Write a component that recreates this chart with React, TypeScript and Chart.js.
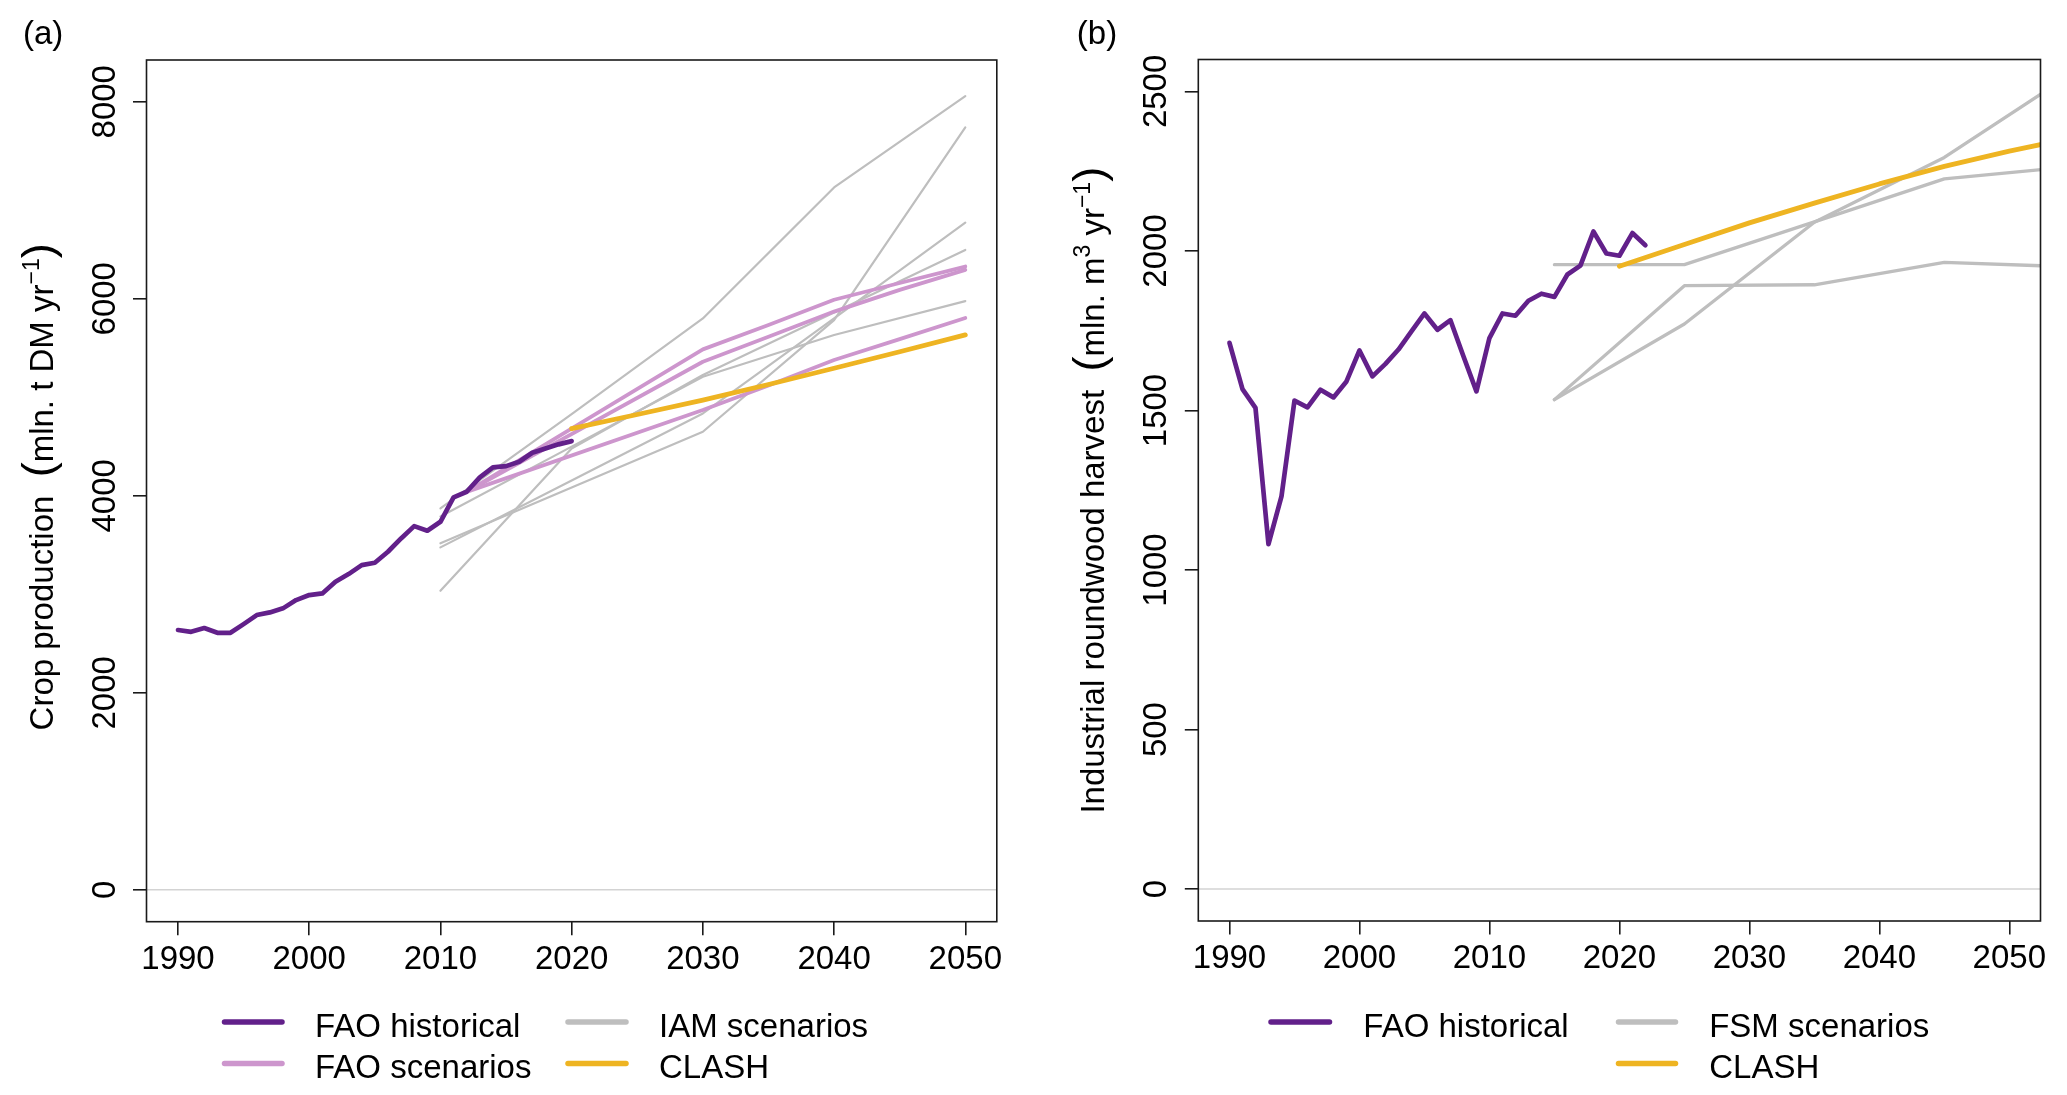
import React, { useEffect, useRef } from 'react';
import { Chart, registerables } from 'chart.js';

Chart.register(...registerables);

const FAMILY = '"Liberation Sans", Arial, Helvetica, sans-serif';
const FS = 33;

// ---------- shared axis ticks ----------
const xTickYears = [1990, 2000, 2010, 2020, 2030, 2040, 2050];
const cropTicks = [0, 2000, 4000, 6000, 8000];
const woodTicks = [0, 500, 1000, 1500, 2000, 2500];

// ---------- panel (a): crop production ----------
const cropHistYears = [1990, 1991, 1992, 1993, 1994, 1995, 1996, 1997, 1998, 1999, 2000, 2001, 2002, 2003, 2004, 2005, 2006, 2007, 2008, 2009, 2010, 2011, 2012, 2013, 2014, 2015, 2016, 2017, 2018, 2019, 2020];
const cropHist = [2637, 2619, 2657, 2609, 2609, 2697, 2789, 2816, 2857, 2941, 2992, 3009, 3127, 3205, 3296, 3320, 3432, 3567, 3692, 3645, 3736, 3984, 4041, 4187, 4288, 4301, 4345, 4437, 4481, 4522, 4555];

const iamYears = [2010, 2020, 2030, 2040, 2050];
const iam1 = [3872, 4830, 5800, 7130, 8058];
const iam2 = [3517, 4083, 4650, 5784, 7740];
const iam3 = [3036, 4480, 5226, 5860, 6495];
const iam4 = [3476, 4156, 4836, 5800, 6772];
const iam5 = [3790, 4499, 5208, 5632, 5976];

const faoScenYears = [2012, 2030, 2035, 2040, 2045, 2050];
const faoScen1 = [4040, 5486, 5733, 5990, 6160, 6327];
const faoScen2 = [4040, 5361, 5614, 5870, 6090, 6293];
const faoScen3 = [4040, 4870, 5120, 5378, 5590, 5805];

const clashCropYears = [2020, 2025, 2030, 2035, 2040, 2045, 2050];
const clashCrop = [4681, 4825, 4971, 5130, 5295, 5462, 5633];

// ---------- panel (b): industrial roundwood ----------
const woodHistYears = [1990, 1991, 1992, 1993, 1994, 1995, 1996, 1997, 1998, 1999, 2000, 2001, 2002, 2003, 2004, 2005, 2006, 2007, 2008, 2009, 2010, 2011, 2012, 2013, 2014, 2015, 2016, 2017, 2018, 2019, 2020, 2021, 2022];
const woodHist = [1712, 1567, 1508, 1081, 1231, 1531, 1510, 1565, 1541, 1591, 1688, 1607, 1646, 1691, 1748, 1804, 1753, 1783, 1670, 1560, 1727, 1804, 1797, 1844, 1866, 1856, 1926, 1954, 2061, 1992, 1985, 2056, 2018];

const fsmYears = [2015, 2025, 2035, 2045, 2055];
const fsm1 = [1534, 1771, 2090, 2293, 2560];
const fsm2 = [1957, 1957, 2091, 2226, 2265];
const fsm3 = [1534, 1891, 1894, 1964, 1950];

const clashWoodYears = [2020, 2025, 2030, 2035, 2040, 2045, 2050, 2055];
const clashWood = [1952, 2020, 2088, 2150, 2210, 2265, 2313, 2355];

// ---------- legend labels ----------
const legendA = ['FAO historical', 'FAO scenarios', 'IAM scenarios', 'CLASH'];
const legendB = ['FAO historical', 'FSM scenarios', 'CLASH'];

const COL = {
  hist: '#62208A',
  scen: '#CD96CD',
  model: '#BEBEBE',
  clash: '#EEB422',
};

type Seg = { t: string; size: number; rise?: number };

function pts(years: number[], vals: number[]) {
  return years.map((x, i) => ({ x, y: vals[i] }));
}

function line(years: number[], vals: number[], color: string, width: number, order: number) {
  return {
    data: pts(years, vals),
    borderColor: color,
    backgroundColor: color,
    borderWidth: width,
    pointRadius: 0,
    pointHoverRadius: 0,
    tension: 0,
    fill: false,
    clip: 0,
    order,
    borderCapStyle: 'round',
    borderJoinStyle: 'round',
  };
}

interface LegendItem { text: string; color: string; col: number; row: number }

interface Spec {
  key: string;
  W: number;
  H: number;
  area: { left: number; right: number; top: number; bottom: number };
  yMin: number;
  yMax: number;
  yTicks: number[];
  datasets: any[];
  title: Seg[];
  titleShift: number;
  panel: string;
  panelX: number;
  legend: LegendItem[];
  legendCols: { x0: number; x1: number; tx: number }[];
}

const legendRows = [1022, 1063.5];

function drawRotated(ctx: CanvasRenderingContext2D, segs: Seg[], bx: number, cy: number) {
  ctx.save();
  const widths = segs.map((s) => {
    ctx.font = `${s.size}px ${FAMILY}`;
    return ctx.measureText(s.t).width;
  });
  const total = widths.reduce((a, b) => a + b, 0);
  ctx.translate(bx, cy);
  ctx.rotate(-Math.PI / 2);
  ctx.fillStyle = '#000';
  ctx.textAlign = 'left';
  ctx.textBaseline = 'alphabetic';
  let x = -total / 2;
  segs.forEach((s, i) => {
    ctx.font = `${s.size}px ${FAMILY}`;
    ctx.fillText(s.t, x, -(s.rise || 0));
    x += widths[i];
  });
  ctx.restore();
}

function rPlugin(spec: Spec) {
  return {
    id: 'rstyle_' + spec.key,
    beforeDatasetsDraw(chart: any) {
      const { ctx, chartArea: a, scales } = chart;
      const py = scales.y.getPixelForValue(0);
      ctx.save();
      ctx.strokeStyle = '#D3D3D3';
      ctx.lineWidth = 1.5;
      ctx.beginPath();
      ctx.moveTo(a.left, py);
      ctx.lineTo(a.right, py);
      ctx.stroke();
      ctx.restore();
    },
    afterDatasetsDraw(chart: any) {
      const { ctx, chartArea: a } = chart;
      ctx.save();
      ctx.strokeStyle = '#1a1a1a';
      ctx.lineWidth = 1.6;
      ctx.strokeRect(a.left, a.top, a.right - a.left, a.bottom - a.top);
      ctx.restore();
    },
    afterDraw(chart: any) {
      const { ctx, chartArea: a, scales } = chart;
      const y = scales.y;
      // rotated y tick labels (R style, las = 0)
      ctx.save();
      ctx.fillStyle = '#000';
      ctx.font = `${FS}px ${FAMILY}`;
      ctx.textAlign = 'center';
      ctx.textBaseline = 'alphabetic';
      y.ticks.forEach((t: any) => {
        const py = y.getPixelForValue(t.value);
        ctx.save();
        ctx.translate(a.left - 32, py);
        ctx.rotate(-Math.PI / 2);
        ctx.fillText(String(t.value), 0, 0);
        ctx.restore();
      });
      ctx.restore();
      // axis title
      drawRotated(ctx, spec.title, a.left - 94, (a.top + a.bottom) / 2 + spec.titleShift);
      // panel label
      ctx.save();
      ctx.fillStyle = '#000';
      ctx.font = `${FS}px ${FAMILY}`;
      ctx.textAlign = 'left';
      ctx.textBaseline = 'alphabetic';
      ctx.fillText(spec.panel, spec.panelX, 44);
      ctx.restore();
      // legend
      ctx.save();
      spec.legend.forEach((it) => {
        const c = spec.legendCols[it.col];
        const ly = legendRows[it.row];
        ctx.strokeStyle = it.color;
        ctx.lineWidth = 5.5;
        ctx.lineCap = 'round';
        ctx.beginPath();
        ctx.moveTo(c.x0, ly);
        ctx.lineTo(c.x1, ly);
        ctx.stroke();
        ctx.fillStyle = '#000';
        ctx.font = `${FS}px ${FAMILY}`;
        ctx.textAlign = 'left';
        ctx.textBaseline = 'alphabetic';
        ctx.fillText(it.text, c.tx, ly + 14.8);
      });
      ctx.restore();
    },
  };
}

function buildConfig(spec: Spec): any {
  const gridOpts = {
    display: true,
    drawOnChartArea: false,
    drawTicks: true,
    tickLength: 13.5,
    color: '#1a1a1a',
    lineWidth: 1.6,
  };
  return {
    type: 'line',
    data: { datasets: spec.datasets },
    plugins: [rPlugin(spec)],
    options: {
      responsive: true,
      maintainAspectRatio: false,
      animation: false,
      events: [],
      layout: {
        padding: { top: spec.area.top, right: spec.W - spec.area.right, left: 0, bottom: 0 },
      },
      plugins: {
        legend: { display: false },
        tooltip: { enabled: false },
        title: { display: false },
      },
      scales: {
        x: {
          type: 'linear',
          min: 1987.6,
          max: 2052.4,
          afterBuildTicks: (ax: any) => {
            ax.ticks = xTickYears.map((v) => ({ value: v }));
          },
          afterFit: (ax: any) => {
            ax.height = spec.H - spec.area.bottom;
          },
          grid: gridOpts,
          border: { display: false },
          ticks: {
            font: { family: FAMILY, size: FS },
            color: '#000',
            padding: 4.5,
            maxRotation: 0,
            minRotation: 0,
            autoSkip: false,
            callback: (v: any) => String(v),
          },
        },
        y: {
          type: 'linear',
          min: spec.yMin,
          max: spec.yMax,
          afterBuildTicks: (ax: any) => {
            ax.ticks = spec.yTicks.map((v) => ({ value: v }));
          },
          afterFit: (ax: any) => {
            ax.width = spec.area.left;
          },
          grid: gridOpts,
          border: { display: false },
          ticks: {
            font: { family: FAMILY, size: FS },
            color: 'rgba(0,0,0,0)',
            autoSkip: false,
            callback: (v: any) => String(v),
          },
        },
      },
    },
  };
}

const specA: Spec = {
  key: 'a',
  W: 1034,
  H: 1095,
  area: { left: 146.5, right: 996.8, top: 60, bottom: 921.7 },
  yMin: -324,
  yMax: 8424,
  yTicks: cropTicks,
  datasets: [
    line(iamYears, iam1, COL.model, 2.2, 4),
    line(iamYears, iam2, COL.model, 2.2, 4),
    line(iamYears, iam3, COL.model, 2.2, 4),
    line(iamYears, iam4, COL.model, 2.2, 4),
    line(iamYears, iam5, COL.model, 2.2, 4),
    line(faoScenYears, faoScen1, COL.scen, 3.8, 3),
    line(faoScenYears, faoScen2, COL.scen, 3.8, 3),
    line(faoScenYears, faoScen3, COL.scen, 3.8, 3),
    line(clashCropYears, clashCrop, COL.clash, 4.8, 2),
    line(cropHistYears, cropHist, COL.hist, 4.7, 1),
  ],
  title: [
    { t: 'Crop production', size: FS },
    { t: '  ', size: FS },
    { t: '(', size: 45 },
    { t: 'mln. t DM yr', size: FS },
    { t: '\u22121', size: 23, rise: 14 },
    { t: ')', size: 45 },
  ],
  titleShift: -4,
  panel: '(a)',
  panelX: 23,
  legend: [
    { text: legendA[0], color: COL.hist, col: 0, row: 0 },
    { text: legendA[1], color: COL.scen, col: 0, row: 1 },
    { text: legendA[2], color: COL.model, col: 1, row: 0 },
    { text: legendA[3], color: COL.clash, col: 1, row: 1 },
  ],
  legendCols: [
    { x0: 224.5, x1: 282, tx: 315 },
    { x0: 568, x1: 626, tx: 659 },
  ],
};

const specB: Spec = {
  key: 'b',
  W: 1033,
  H: 1095,
  area: { left: 164.3, right: 1006.5, top: 59.5, bottom: 921 },
  yMin: -100,
  yMax: 2600,
  yTicks: woodTicks,
  datasets: [
    line(fsmYears, fsm1, COL.model, 3.3, 4),
    line(fsmYears, fsm2, COL.model, 3.3, 4),
    line(fsmYears, fsm3, COL.model, 3.3, 4),
    line(clashWoodYears, clashWood, COL.clash, 4.8, 2),
    line(woodHistYears, woodHist, COL.hist, 4.7, 1),
  ],
  title: [
    { t: 'Industrial roundwood harvest', size: FS },
    { t: '  ', size: FS },
    { t: '(', size: 45 },
    { t: 'mln. m', size: FS },
    { t: '3', size: 23, rise: 14 },
    { t: ' yr', size: FS },
    { t: '\u22121', size: 23, rise: 14 },
    { t: ')', size: 45 },
  ],
  titleShift: 0,
  panel: '(b)',
  panelX: 42.8,
  legend: [
    { text: legendB[0], color: COL.hist, col: 0, row: 0 },
    { text: legendB[1], color: COL.model, col: 1, row: 0 },
    { text: legendB[2], color: COL.clash, col: 1, row: 1 },
  ],
  legendCols: [
    { x0: 237, x1: 295.5, tx: 329.3 },
    { x0: 584.5, x1: 641.5, tx: 675.2 },
  ],
};

function Panel({ spec, left }: { spec: Spec; left: number }) {
  const ref = useRef<HTMLCanvasElement | null>(null);
  useEffect(() => {
    if (!ref.current) return;
    const chart = new Chart(ref.current, buildConfig(spec));
    return () => chart.destroy();
  }, [spec]);
  return (
    <div style={{ position: 'absolute', left, top: 0, width: spec.W, height: spec.H }}>
      <canvas ref={ref} />
    </div>
  );
}

export default function App() {
  return (
    <div style={{ position: 'absolute', left: 0, top: 0, width: 2067, height: 1095, background: '#ffffff', overflow: 'hidden' }}>
      <Panel spec={specA} left={0} />
      <Panel spec={specB} left={1034} />
    </div>
  );
}
